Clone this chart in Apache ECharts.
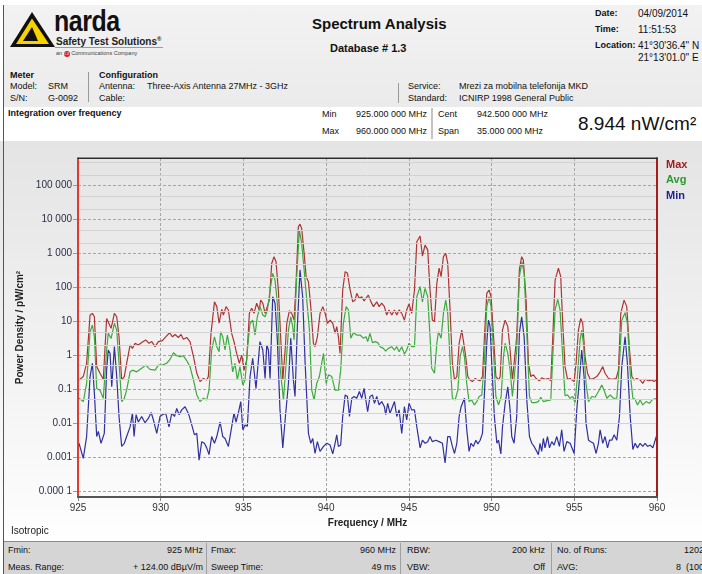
<!DOCTYPE html>
<html><head><meta charset="utf-8">
<script src="https://cdn.jsdelivr.net/npm/echarts@6/dist/echarts.min.js"></script>
<style>
body{margin:0;width:702px;height:574px;overflow:hidden;background:#fff;font-family:"Liberation Sans",Arial,sans-serif;color:#111;position:relative}
.a{position:absolute;white-space:nowrap;font-size:9px;line-height:11px}
.b{font-weight:bold}
.r{text-align:right}
</style></head>
<body>
<!-- header band -->
<div style="position:absolute;left:4px;top:5px;width:698px;height:102px;background:linear-gradient(#f2f2f2,#ebebeb)"></div>
<svg style="position:absolute;left:8px;top:10px" width="52" height="40" viewBox="0 0 52 40">
  <polygon points="2,37 24,2 47,37" fill="#111"/>
  <polygon points="8,34 24,8.5 41,34" fill="#f6d300"/>
  <polygon points="15,31 24,17 30,31" fill="#111"/>
</svg>
<div class="a b" style="left:54px;top:6px;font-size:29px;line-height:30px;letter-spacing:-0.5px;transform:scaleX(0.86);transform-origin:left">narda</div>
<div class="a b" style="left:56px;top:34px;font-size:10px;line-height:11px;color:#222">Safety Test Solutions<sup style="font-size:6px">®</sup></div>
<div style="position:absolute;left:55px;top:47px;width:108px;height:1px;background:#9a9a9a"></div>
<div class="a" style="left:56px;top:50px;font-size:5.5px;line-height:7px;color:#444">an <span style="display:inline-block;width:6px;height:6px;border-radius:3px;background:#d42020;color:#fff;font-size:4px;line-height:6px;text-align:center;vertical-align:middle">L3</span> Communications Company</div>

<div class="a b" style="left:312px;top:15px;font-size:15px;line-height:18px">Spectrum Analysis</div>
<div class="a b" style="left:330px;top:42px;font-size:11px;line-height:13px">Database # 1.3</div>

<div class="a b" style="left:595px;top:8px">Date:</div>
<div class="a" style="left:638px;top:8px;font-size:10px">04/09/2014</div>
<div class="a b" style="left:595px;top:24px">Time:</div>
<div class="a" style="left:638px;top:24px;font-size:10px">11:51:53</div>
<div class="a b" style="left:595px;top:40px">Location:</div>
<div class="a" style="left:638px;top:40px;font-size:10px">41°30'36.4" N</div>
<div class="a" style="left:638px;top:52px;font-size:10px">21°13'01.0" E</div>

<div class="a b" style="left:10px;top:70px">Meter</div>
<div class="a" style="left:10px;top:81px">Model:</div>
<div class="a" style="left:48px;top:81px">SRM</div>
<div class="a" style="left:10px;top:93px">S/N:</div>
<div class="a" style="left:48px;top:93px">G-0092</div>
<div style="position:absolute;left:88px;top:72px;width:1px;height:30px;background:#999"></div>
<div class="a b" style="left:99px;top:70px">Configuration</div>
<div class="a" style="left:99px;top:81px">Antenna:</div>
<div class="a" style="left:147px;top:81px">Three-Axis Antenna 27MHz - 3GHz</div>
<div class="a" style="left:99px;top:93px">Cable:</div>
<div style="position:absolute;left:398px;top:83px;width:1px;height:20px;background:#999"></div>
<div class="a" style="left:408px;top:81px">Service:</div>
<div class="a" style="left:459px;top:81px">Mrezi za mobilna telefonija MKD</div>
<div class="a" style="left:408px;top:93px">Standard:</div>
<div class="a" style="left:459px;top:93px">ICNIRP 1998 General Public</div>

<!-- integration row -->
<div class="a b" style="left:8px;top:108px">Integration over frequency</div>
<div class="a" style="left:322px;top:109px">Min</div>
<div class="a" style="left:356px;top:109px">925.000 000 MHz</div>
<div class="a" style="left:322px;top:126px">Max</div>
<div class="a" style="left:356px;top:126px">960.000 000 MHz</div>
<div style="position:absolute;left:431px;top:108px;width:2px;height:31px;background:#c4c4c4"></div>
<div class="a" style="left:438px;top:109px">Cent</div>
<div class="a" style="left:477px;top:109px">942.500 000 MHz</div>
<div class="a" style="left:438px;top:126px">Span</div>
<div class="a" style="left:477px;top:126px">35.000 000 MHz</div>
<div class="a" style="left:578px;top:113px;font-size:19px;line-height:22px">8.944 nW/cm²</div>

<!-- chart -->
<div id="chart" style="position:absolute;left:0;top:141px;width:702px;height:400px;background:linear-gradient(#e4e4e4 0%,#fbfbfb 90%,#ffffff 100%)"></div>

<!-- isotropic row -->
<div class="a" style="left:11px;top:525px;font-size:10px;line-height:12px;color:#222">Isotropic</div>
<div style="position:absolute;left:4px;top:541px;width:698px;height:1px;background:#8a8a8a"></div>
<div style="position:absolute;left:4px;top:542px;width:698px;height:32px;background:#d5d5d5"></div>
<div style="position:absolute;left:206px;top:543px;width:1px;height:31px;background:#a0a0a0"></div>
<div style="position:absolute;left:400px;top:543px;width:1px;height:31px;background:#a0a0a0"></div>
<div style="position:absolute;left:551px;top:543px;width:1px;height:31px;background:#a0a0a0"></div>
<div class="a" style="left:8px;top:545px">Fmin:</div>
<div class="a r" style="left:100px;width:103px;top:545px">925 MHz</div>
<div class="a" style="left:211px;top:545px">Fmax:</div>
<div class="a r" style="left:300px;width:96px;top:545px">960 MHz</div>
<div class="a" style="left:407px;top:545px">RBW:</div>
<div class="a r" style="left:450px;width:95px;top:545px">200 kHz</div>
<div class="a" style="left:557px;top:545px">No. of Runs:</div>
<div class="a r" style="left:640px;width:64px;top:545px">1202</div>
<div class="a" style="left:8px;top:562px">Meas. Range:</div>
<div class="a r" style="left:100px;width:103px;top:562px">+ 124.00 dBµV/m</div>
<div class="a" style="left:211px;top:562px">Sweep Time:</div>
<div class="a r" style="left:300px;width:96px;top:562px">49 ms</div>
<div class="a" style="left:407px;top:562px">VBW:</div>
<div class="a r" style="left:450px;width:95px;top:562px">Off</div>
<div class="a" style="left:557px;top:562px">AVG:</div>
<div class="a" style="left:676px;top:562px">8&nbsp; (100 %)</div>

<div style="position:absolute;left:3px;top:5px;width:1px;height:569px;background:#555"></div>

<script>
// ---- data (frequency MHz, power density pW/cm²) ----
const maxTrace = [[925.06,0.19],[925.32,0.24],[925.52,0.59],[925.73,15.5],[925.87,17.4],[925.99,13.8],[926.13,0.47],[926.33,0.30],[926.53,0.20],[926.73,12.3],[926.83,11.0],[927.00,6.3],[927.20,17.4],[927.34,13.8],[927.48,3.55],[927.64,0.19],[927.80,0.24],[927.94,0.59],[928.15,2.04],[928.29,1.62],[928.45,2.29],[928.65,2.04],[928.85,2.4],[929.09,2.88],[929.29,2.29],[929.46,2.57],[929.66,1.82],[929.86,2.57],[930.10,2.75],[930.30,3.55],[930.54,4.68],[930.71,3.55],[930.87,4.17],[931.07,3.39],[931.23,4.17],[931.37,3.02],[931.57,3.39],[931.77,2.57],[931.98,0.93],[932.18,0.30],[932.38,0.17],[932.58,0.21],[932.78,0.19],[932.88,0.24],[933.04,4.47],[933.25,38],[933.39,27.5],[933.53,8.9],[933.69,23],[933.79,15.5],[933.95,27.5],[934.09,21.9],[934.29,4.47],[934.43,2.57],[934.59,1.15],[934.75,0.59],[934.90,1.02],[935.04,0.37],[935.20,0.74],[935.36,17.4],[935.50,24.5],[935.64,17.4],[935.80,34.7],[935.96,21.9],[936.04,42.7],[936.17,34.7],[936.31,17.4],[936.41,15.5],[936.57,42.7],[936.71,513],[936.85,813],[936.97,575],[937.11,85],[937.21,8.9],[937.38,0.19],[937.52,1.45],[937.62,8.9],[937.78,20.9],[937.92,17.4],[938.06,11.0],[938.18,132],[938.32,6170],[938.42,7410],[938.52,5500],[938.67,1020],[938.79,209],[938.93,148],[939.07,27.5],[939.23,2.29],[939.33,1.82],[939.47,3.55],[939.63,17.4],[939.80,27.5],[939.94,17.4],[940.08,8.9],[940.24,11.0],[940.40,8.9],[940.54,4.47],[940.64,7.1],[940.74,3.55],[940.84,1.15],[941.00,85],[941.15,295],[941.29,263],[941.45,85],[941.61,38],[941.75,42.7],[941.85,67.6],[942.01,47.9],[942.15,53.7],[942.29,40.7],[942.55,60],[942.71,38],[942.86,27.5],[943.06,38],[943.20,27.5],[943.36,34.7],[943.52,27.5],[943.66,15.5],[943.80,21.9],[943.97,15.5],[944.13,21.9],[944.27,15.5],[944.41,21.9],[944.57,17.4],[944.73,11.0],[944.87,21.9],[945.01,33],[945.17,17.4],[945.34,85],[945.48,2240],[945.68,3310],[945.82,851],[945.98,1780],[946.14,1290],[946.28,85],[946.42,11.0],[946.55,10],[946.69,132],[946.83,372],[946.95,209],[947.09,813],[947.23,1020],[947.35,513],[947.49,21.9],[947.63,0.59],[947.76,0.19],[947.90,0.24],[948.04,2.29],[948.20,5.6],[948.30,5.0],[948.44,0.93],[948.56,0.24],[948.70,0.19],[948.84,0.17],[949.01,0.21],[949.17,0.19],[949.31,0.18],[949.45,0.24],[949.57,3.55],[949.71,67.6],[949.85,85],[949.97,53.7],[950.11,4.47],[950.26,0.24],[950.42,0.19],[950.52,0.24],[950.66,5.6],[950.82,11.0],[950.98,7.1],[951.12,1.45],[951.26,0.19],[951.36,0.20],[951.52,3.55],[951.68,331],[951.82,813],[951.92,646],[952.09,42.7],[952.23,0.59],[952.37,0.24],[952.53,0.27],[952.69,0.21],[952.89,0.18],[953.03,0.22],[953.23,0.20],[953.44,0.21],[953.58,0.18],[953.70,3.55],[953.84,166],[954.04,372],[954.18,209],[954.30,8.9],[954.44,0.47],[954.59,0.20],[954.75,0.21],[954.99,0.17],[955.11,0.59],[955.25,5.6],[955.39,12.3],[955.51,8.9],[955.65,0.93],[955.80,0.30],[955.96,0.20],[956.16,0.21],[956.36,0.24],[956.56,0.33],[956.72,0.47],[956.86,0.30],[957.07,0.21],[957.27,0.20],[957.53,0.21],[957.67,0.37],[957.81,17.4],[958.01,42.7],[958.17,27.5],[958.34,1.45],[958.48,0.24],[958.62,0.19],[958.78,0.21],[958.98,0.19],[959.14,0.15],[959.28,0.20],[959.49,0.18],[959.69,0.19],[959.83,0.17],[959.99,0.20]];

const avgTrace = [[925.06,0.055],[925.32,0.044],[925.52,0.15],[925.73,5.0],[925.87,7.9],[925.99,3.55],[926.13,0.107],[926.33,0.095],[926.53,0.055],[926.73,1.45],[926.83,4.47],[927.00,3.16],[927.20,8.9],[927.34,5.6],[927.48,0.59],[927.64,0.044],[927.80,0.055],[927.94,0.095],[928.15,0.33],[928.29,0.37],[928.55,0.33],[928.85,0.42],[929.09,0.52],[929.35,0.39],[929.66,0.37],[929.86,0.52],[930.10,0.52],[930.36,0.59],[930.54,0.74],[930.77,1.2],[930.97,0.98],[931.17,0.93],[931.37,0.98],[931.57,0.71],[931.77,0.47],[931.98,0.19],[932.18,0.069],[932.38,0.044],[932.58,0.055],[932.78,0.049],[932.92,0.095],[933.08,1.45],[933.25,3.55],[933.39,1.82],[933.53,1.29],[933.62,5.0],[933.75,3.55],[933.89,1.45],[934.03,4.0],[934.19,1.45],[934.35,0.33],[934.49,0.59],[934.63,0.19],[934.79,0.47],[934.96,0.135],[935.10,0.19],[935.24,1.45],[935.40,8.9],[935.56,11.0],[935.70,4.0],[935.84,13.8],[936.00,27.5],[936.17,15.5],[936.31,13.8],[936.45,21.9],[936.61,85],[936.77,263],[936.91,166],[937.05,34.7],[937.21,0.47],[937.42,0.049],[937.58,0.59],[937.72,5.6],[937.86,13.8],[937.98,7.1],[938.06,2.88],[938.22,209],[938.38,4900],[938.52,2000],[938.67,331],[938.83,42.7],[938.99,5.6],[939.13,0.095],[939.27,0.049],[939.43,0.15],[939.59,0.24],[939.73,0.59],[939.84,1.15],[940.00,0.15],[940.14,0.27],[940.34,0.24],[940.54,0.095],[940.74,0.095],[940.88,0.37],[941.04,8.9],[941.21,27.5],[941.35,21.9],[941.49,3.24],[941.65,4.68],[941.85,4.0],[942.05,4.0],[942.25,3.24],[942.42,3.55],[942.51,2.57],[942.65,4.47],[942.80,2.4],[942.96,2.57],[943.12,2.4],[943.26,1.82],[943.46,1.62],[943.60,1.35],[943.76,1.62],[943.96,1.82],[944.13,1.45],[944.27,1.82],[944.41,1.29],[944.57,1.82],[944.73,1.1],[944.87,1.45],[945.01,2.29],[945.17,1.82],[945.34,1.82],[945.48,53.7],[945.68,107],[945.82,38],[945.98,95],[946.14,53.7],[946.28,3.55],[946.38,0.42],[946.55,0.30],[946.69,2.29],[946.79,5.0],[946.95,3.24],[947.09,17.4],[947.23,42.7],[947.35,17.4],[947.49,0.74],[947.63,0.055],[947.80,0.049],[947.96,0.095],[948.10,0.93],[948.24,1.82],[948.36,0.93],[948.50,0.15],[948.64,0.044],[948.80,0.049],[948.96,0.035],[949.11,0.044],[949.25,0.062],[949.41,0.069],[949.57,0.74],[949.71,27.5],[949.85,53.7],[949.97,27.5],[950.11,1.45],[950.26,0.062],[950.42,0.035],[950.58,0.062],[950.72,0.93],[950.82,2.29],[950.98,1.15],[951.12,0.37],[951.26,0.062],[951.36,0.055],[951.52,1.45],[951.68,209],[951.84,575],[951.97,263],[952.13,4.47],[952.29,0.062],[952.43,0.041],[952.63,0.041],[952.83,0.044],[952.97,0.059],[953.13,0.044],[953.34,0.047],[953.58,0.049],[953.70,0.93],[953.84,21.9],[954.00,44.7],[954.14,21.9],[954.30,0.93],[954.44,0.065],[954.59,0.069],[954.75,0.055],[954.91,0.062],[955.05,0.041],[955.19,0.24],[955.35,2.88],[955.45,5.6],[955.55,2.29],[955.71,0.15],[955.86,0.044],[956.06,0.062],[956.26,0.059],[956.46,0.087],[956.66,0.135],[956.80,0.095],[956.97,0.055],[957.17,0.069],[957.37,0.055],[957.57,0.055],[957.73,0.59],[957.87,11.0],[958.07,18.2],[958.21,8.9],[958.38,0.30],[958.54,0.055],[958.68,0.051],[958.82,0.035],[958.98,0.049],[959.14,0.035],[959.34,0.044],[959.55,0.039],[959.69,0.049],[959.83,0.052],[959.99,0.055]];

const minTrace = [[925.06,0.0026],[925.32,0.00093],[925.52,0.0041],[925.73,0.24],[925.87,0.59],[925.99,0.078],[926.13,0.0041],[926.23,0.0058],[926.39,0.0026],[926.59,0.0051],[926.73,0.37],[926.83,1.45],[926.94,1.15],[927.04,0.12],[927.20,1.82],[927.34,0.24],[927.48,0.016],[927.64,0.0021],[927.80,0.0026],[927.94,0.0041],[928.15,0.0079],[928.29,0.02],[928.39,0.0041],[928.51,0.018],[928.65,0.011],[928.85,0.016],[929.05,0.0105],[929.25,0.014],[929.42,0.021],[929.56,0.0126],[929.76,0.0051],[929.96,0.016],[930.10,0.018],[930.30,0.02],[930.50,0.0079],[930.67,0.02],[930.83,0.016],[930.97,0.0275],[931.11,0.018],[931.27,0.025],[931.47,0.031],[931.67,0.02],[931.88,0.0089],[932.04,0.0046],[932.18,0.0051],[932.32,0.00083],[932.48,0.0029],[932.64,0.0026],[932.78,0.0019],[932.92,0.0012],[933.08,0.0041],[933.25,0.0026],[933.39,0.0041],[933.59,0.011],[933.75,0.0041],[933.89,0.0036],[934.09,0.0021],[934.29,0.0079],[934.43,0.02],[934.55,0.011],[934.69,0.02],[934.84,0.044],[934.96,0.0065],[935.10,0.0089],[935.24,0.0083],[935.40,0.24],[935.56,0.83],[935.76,0.107],[936.00,2.57],[936.17,1.45],[936.31,0.21],[936.41,2.04],[936.51,1.45],[936.61,0.21],[936.77,53.7],[936.91,34.7],[937.05,2.88],[937.21,0.025],[937.38,0.0019],[937.52,0.0126],[937.72,0.15],[937.86,3.24],[938.02,0.19],[938.12,0.062],[938.26,7.1],[938.42,331],[938.58,53.7],[938.73,0.59],[938.93,0.0051],[939.07,0.0026],[939.19,0.0036],[939.33,0.0013],[939.47,0.0029],[939.63,0.0015],[939.84,0.0021],[940.04,0.0026],[940.24,0.0023],[940.40,0.00126],[940.54,0.0026],[940.64,0.0046],[940.74,0.0021],[940.88,0.0023],[941.00,0.016],[941.15,0.069],[941.29,0.062],[941.41,0.016],[941.55,0.055],[941.69,0.062],[941.85,0.055],[942.01,0.087],[942.15,0.055],[942.29,0.107],[942.40,0.049],[942.51,0.022],[942.65,0.062],[942.80,0.069],[942.92,0.039],[943.06,0.062],[943.20,0.035],[943.36,0.044],[943.52,0.031],[943.60,0.018],[943.72,0.039],[943.86,0.02],[944.01,0.031],[944.13,0.044],[944.27,0.016],[944.41,0.025],[944.57,0.0051],[944.73,0.031],[944.87,0.0126],[945.01,0.039],[945.17,0.025],[945.34,0.025],[945.48,0.0079],[945.68,0.0019],[945.82,0.0032],[945.98,0.0026],[946.14,0.0029],[946.28,0.0041],[946.42,0.0029],[946.63,0.0032],[946.83,0.0029],[947.03,0.0026],[947.19,0.00068],[947.35,0.0041],[947.49,0.0041],[947.63,0.0021],[947.76,0.0013],[947.90,0.0026],[948.04,0.016],[948.16,0.031],[948.24,0.0275],[948.36,0.055],[948.50,0.0065],[948.64,0.0015],[948.76,0.0026],[948.90,0.0021],[949.05,0.0032],[949.17,0.0025],[949.31,0.0032],[949.45,0.0051],[949.57,0.078],[949.71,2.29],[949.81,11.0],[949.91,7.1],[950.01,0.59],[950.17,0.016],[950.32,0.0026],[950.42,0.0032],[950.56,0.00126],[950.66,0.0079],[950.82,0.039],[950.98,0.12],[951.12,0.025],[951.22,0.0041],[951.36,0.0026],[951.52,0.016],[951.68,4.47],[951.82,13.8],[951.97,3.55],[952.13,0.049],[952.29,0.0041],[952.43,0.0026],[952.57,0.0021],[952.73,0.0015],[952.83,0.0012],[952.93,0.0026],[953.03,0.0015],[953.13,0.0036],[953.23,0.0019],[953.38,0.0041],[953.50,0.0019],[953.64,0.0029],[953.78,0.0023],[953.94,0.0041],[954.10,0.0021],[954.24,0.0065],[954.38,0.0015],[954.55,0.0029],[954.75,0.0026],[954.99,0.0013],[955.15,0.025],[955.31,0.19],[955.45,1.45],[955.59,0.24],[955.71,0.01],[955.86,0.0032],[956.00,0.0029],[956.16,0.0026],[956.32,0.0013],[956.46,0.0026],[956.56,0.0065],[956.72,0.0026],[956.86,0.0041],[957.01,0.0019],[957.13,0.0032],[957.27,0.0032],[957.41,0.0046],[957.57,0.0032],[957.73,0.016],[957.87,0.47],[958.07,3.55],[958.21,0.59],[958.38,0.016],[958.54,0.0017],[958.68,0.0026],[958.82,0.0019],[958.98,0.0026],[959.14,0.0021],[959.28,0.0026],[959.43,0.0021],[959.59,0.0023],[959.75,0.0019],[959.89,0.0032],[959.99,0.0046]];

const seriesNames = ['Max', 'Avg', 'Min'];
const yTickLabels = ['0.000 1', '0.001', '0.01', '0.1', '1', '10', '100', '1 000', '10 000', '100 000'];
const yTickFirstExp = -4;
const minorMultipliers = [2, 5];
const freqMin = 925, freqMax = 960, freqStep = 5;
const yMin = 6.8e-5, yMax = 6.55e5;

// ---- chart ----
const FONT = '"Liberation Sans", Arial, sans-serif';
const colors = { Max: '#ad3434', Avg: '#3caa3c', Min: '#30309e' };
const legendColors = { Max: '#9e1c1c', Avg: '#2c9a2c', Min: '#23238f' };

const minorLines = [];
for (let e = -5; e <= 5; e++) {
  minorMultipliers.forEach(m => {
    const v = m * Math.pow(10, e);
    if (v > yMin && v < yMax) minorLines.push({ yAxis: v });
  });
}

const chart = echarts.init(document.getElementById('chart'), null, { renderer: 'canvas' });
const frameY = (pos, color) => ({
  type: 'value', position: pos, min: 0, max: 1, z: 5,
  axisLine: { show: true, onZero: false, lineStyle: { color: color, width: 2 } },
  axisTick: { show: false }, axisLabel: { show: false }, splitLine: { show: false }
});
chart.setOption({
  animation: false,
  textStyle: { fontFamily: FONT },
  grid: { left: 78, right: 45, top: 17, bottom: 44, show: true, borderColor: '#333', borderWidth: 1, backgroundColor: 'transparent', containLabel: false, outerBoundsMode: 'none' },
  legend: {
    data: seriesNames.map(n => ({ name: n, textStyle: { color: legendColors[n] } })),
    orient: 'vertical', left: 661, top: 17, padding: 0, itemGap: 2.5,
    icon: 'rect', itemWidth: 0, itemHeight: 10, itemStyle: { opacity: 0 }, selectedMode: false,
    textStyle: { fontWeight: 'bold', fontSize: 11, lineHeight: 13, fontFamily: FONT }
  },
  xAxis: [
    {
      type: 'value', min: freqMin, max: freqMax, interval: freqStep,
      axisLine: { show: false }, axisTick: { show: true, length: 4, lineStyle: { color: '#888' } },
      axisLabel: { color: '#333', fontSize: 10, margin: 6, fontFamily: FONT },
      splitLine: { show: true, showMinLine: false, showMaxLine: false, lineStyle: { type: [3, 2], color: '#a5a5a5', width: 1 } },
      name: 'Frequency / MHz', nameLocation: 'middle', nameGap: 17,
      nameTextStyle: { fontWeight: 'bold', fontSize: 10, color: '#222', fontFamily: FONT }
    },
    { type: 'value', position: 'top', min: 0, max: 1, z: 5, axisLine: { show: true, onZero: false, lineStyle: { color: '#2a2a2a', width: 1 } }, axisTick: { show: false }, axisLabel: { show: false }, splitLine: { show: false } },
    { type: 'value', position: 'bottom', min: 0, max: 1, z: 5, axisLine: { show: true, onZero: false, lineStyle: { color: '#555', width: 2 } }, axisTick: { show: false }, axisLabel: { show: false }, splitLine: { show: false } }
  ],
  yAxis: [
    {
      type: 'log', logBase: 10, min: yMin, max: yMax, splitNumber: 10,
      axisLine: { show: false }, axisTick: { show: true, length: 5, lineStyle: { color: '#999' } },
      axisLabel: {
        color: '#2c2c48', fontSize: 10, margin: 6, fontFamily: FONT, showMinLabel: false, showMaxLabel: false,
        formatter: v => { const i = Math.round(Math.log10(v)) - yTickFirstExp; return yTickLabels[i] || ''; }
      },
      splitLine: { show: true, showMinLine: false, showMaxLine: false, lineStyle: { type: [3, 2], color: '#a5a5a5', width: 1 } },
      name: 'Power Density / pW/cm²', nameLocation: 'middle', nameGap: 53, nameRotate: 90,
      nameTextStyle: { fontWeight: 'bold', fontSize: 10, color: '#222', fontFamily: FONT }
    },
    frameY('left', '#e23a30'),
    frameY('right', '#a81c1c')
  ],
  series: [
    {
      name: 'minor', type: 'line', data: [], z: 1, silent: true,
      markLine: { silent: true, symbol: 'none', label: { show: false }, animation: false,
        lineStyle: { type: 'solid', color: '#d2d2d2', width: 1 }, data: minorLines }
    },
    { name: 'Max', type: 'line', data: maxTrace, showSymbol: false, z: 2, lineStyle: { color: colors.Max, width: 1.2 }, itemStyle: { color: colors.Max } },
    { name: 'Avg', type: 'line', data: avgTrace, showSymbol: false, z: 3, lineStyle: { color: colors.Avg, width: 1.2 }, itemStyle: { color: colors.Avg } },
    { name: 'Min', type: 'line', data: minTrace, showSymbol: false, z: 4, lineStyle: { color: colors.Min, width: 1.2 }, itemStyle: { color: colors.Min } }
  ]
});
</script>
</body></html>
